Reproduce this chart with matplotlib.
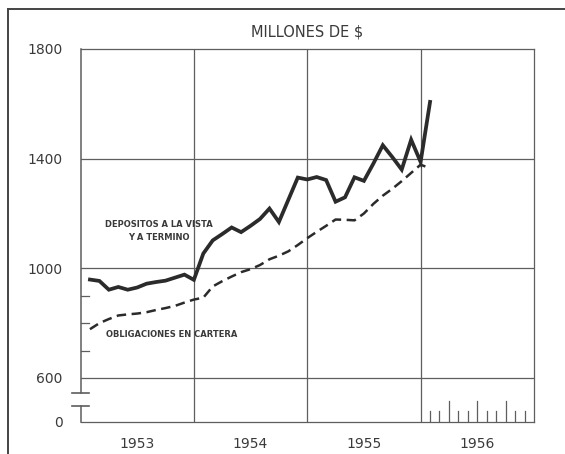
import numpy as np
import matplotlib
matplotlib.use('Agg')
import matplotlib.pyplot as plt
from matplotlib.lines import Line2D
import matplotlib.transforms as mtransforms

plt.rcParams['font.family'] = ['DejaVu Sans']

# 月度数据 (1953-01 .. 1956-01, 月末)
depositos = [959, 954, 922, 932, 922, 930, 944, 950, 955, 966, 977, 958,
             1054, 1102, 1125, 1149, 1132, 1155, 1180, 1218, 1169, 1250, 1331, 1324,
             1333, 1322, 1243, 1259, 1332, 1319, 1382, 1449, 1406, 1360, 1469, 1388,
             1607]
obligaciones = [778, 800, 815, 828, 832, 835, 840, 848, 855, 863, 875, 886,
                893, 934, 953, 970, 986, 997, 1012, 1033, 1046, 1062, 1085, 1110,
                1133, 1155, 1178, 1177, 1175, 1200, 1235, 1265, 1290, 1318, 1348, 1378,
                1365]
years = [1953, 1954, 1955, 1956]
ytick_vals = [600, 1000, 1400, 1800]
minor_vals = [700, 800, 900]

x = 1953 + np.arange(1, len(depositos) + 1) / 12.0

# 坐标轴断裂: 0 画在 600 下方
y_zero = 439.5
brk_hi, brk_lo = 545, 498

line_col = '#2b2b2b'
grid_col = '#5e5e5e'
text_col = '#3a3a3a'

fig = plt.figure(figsize=(5.65, 4.54), dpi=100)
ax = fig.add_axes([80.5 / 565, 0.0705, 0.8026, 0.8216])

ax.plot(x, depositos, color=line_col, lw=2.7, solid_joinstyle='miter')
ax.plot(x, obligaciones, color=line_col, lw=1.8, linestyle=(0, (3.8, 2.2)))

ax.set_xlim(1953, 1957)
ax.set_ylim(y_zero, 1800)

# 网格线
for yr in years[1:]:
    ax.axvline(yr, color=grid_col, lw=0.9, zorder=0)
for v in ytick_vals[:-1]:
    ax.axhline(v, color=grid_col, lw=0.9, zorder=0)

# 边框
for side in ['top', 'right', 'bottom']:
    ax.spines[side].set_color(grid_col)
    ax.spines[side].set_linewidth(0.9)
ax.spines['left'].set_visible(False)

# 左侧断裂轴线
def yfrac(v):
    return (v - y_zero) / (1800 - y_zero)

ax.axvline(years[0], ymin=yfrac(brk_hi), ymax=1, color=grid_col, lw=1.1, clip_on=False)
ax.axvline(years[0], ymin=0, ymax=yfrac(brk_lo), color=grid_col, lw=1.1, clip_on=False)

bt = mtransforms.blended_transform_factory(ax.transAxes, ax.transData)
for v in [brk_hi, brk_lo]:
    ax.add_line(Line2D([-0.018, 0.018], [v, v], color=grid_col, lw=1.2,
                       transform=bt, clip_on=False))
for v in minor_vals:
    ax.add_line(Line2D([0, 0.018], [v, v], color=grid_col, lw=0.9,
                       transform=bt, clip_on=False))

# 刻度标签
ax.set_yticks([y_zero] + ytick_vals)
ax.set_yticklabels(['0'] + [str(v) for v in ytick_vals])
ax.tick_params(axis='y', length=0, pad=13, labelsize=10, labelcolor=text_col)
ax.set_xticks([yr + 0.5 for yr in years])
ax.set_xticklabels([str(yr) for yr in years])
ax.tick_params(axis='x', length=0, pad=11, labelsize=10, labelcolor=text_col)

# 1956 月度刻度
bx = mtransforms.blended_transform_factory(ax.transData, ax.transAxes)
for k in range(1, 12):
    h = 0.056 if k % 3 == 0 else 0.03
    ax.add_line(Line2D([1956 + k / 12.0] * 2, [0, h], color=grid_col, lw=0.9,
                       transform=bx))

# 文字标注
ax.text(1953.687, 1160, 'DEPOSITOS A LA VISTA', ha='center', va='center',
        fontsize=6, fontweight='bold', color=text_col)
ax.text(1953.687, 1113, 'Y A TERMINO', ha='center', va='center',
        fontsize=6, fontweight='bold', color=text_col)
ax.text(1953.80, 759, 'OBLIGACIONES EN CARTERA', ha='center', va='center',
        fontsize=6, fontweight='bold', color=text_col)
ax.text(0.5, 1.045, 'MILLONES DE $', transform=ax.transAxes, ha='center', va='center',
        fontsize=10.5, color=text_col)

# 外框
fig.add_artist(Line2D([0.0142, 0.0142], [0.98, 0.0], color='#444444', lw=1.4,
                      transform=fig.transFigure))
fig.add_artist(Line2D([0.0142, 1.0], [0.98, 0.98], color='#444444', lw=1.4,
                      transform=fig.transFigure))

fig.savefig('out.png', dpi=100)
